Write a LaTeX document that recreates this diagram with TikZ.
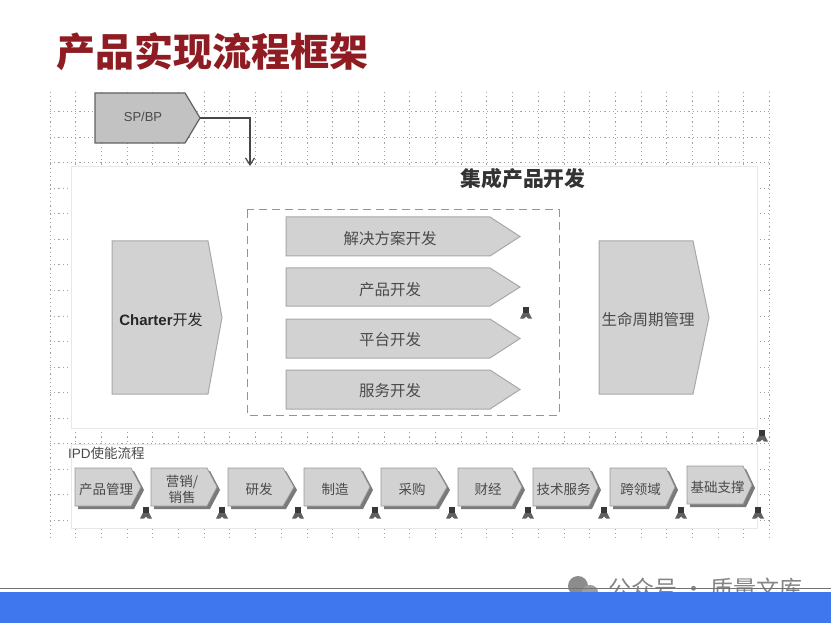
\documentclass[tikz,border=0pt]{standalone}
\usepackage{fontspec}
\usetikzlibrary{arrows.meta}
\setmainfont{Liberation Sans}
\newfontfamily\cjk{Noto Sans CJK SC}
\definecolor{titlered}{HTML}{8E1C22}
\definecolor{band}{HTML}{3F78EE}
\definecolor{inktxt}{HTML}{4A4A4A}
\definecolor{shapefill}{HTML}{D2D2D2}
\definecolor{shapeedge}{HTML}{A8A8A8}
\tikzset{
  griddot/.style={draw=black!36,line width=1pt,dash pattern=on 1.2pt off 3pt},
  panel/.style={fill=white,draw=black!9,line width=0.7pt},
  bigshape/.style={fill=shapefill,draw=shapeedge,line width=1pt},
  chevshape/.style={fill=shapefill,draw=black!40,line width=0.7pt},
  chevshadow/.style={fill=black!52,draw=none},
  lbl/.style={text=inktxt,inner sep=0pt,align=center,font=\cjk\fontsize{#1}{#1}\selectfont},
  lbl/.default=14,
}
\newcommand{\mypent}[7]{%
  \path[#7] (#2,#3) -- (#6,#3) -- (#4,{(#3+#5)/2}) -- (#6,#5) -- (#2,#5) -- cycle;
  \coordinate (#1tip) at (#4,{(#3+#5)/2});
}
\newcommand{\mychev}[7]{%
  \path[chevshadow] ({#2+3},{#3+3}) -- ({#6+3},{#3+3}) -- ({#4+3},{(#3+#5)/2+3}) -- ({#6+3},{#5+3}) -- ({#2+3},{#5+3}) -- cycle;
  \mypent{#1}{#2}{#3}{#4}{#5}{#6}{chevshape}
  \node[lbl=13.5] (#1) at ({(#2+#4)/2-2},{(#3+#5)/2+2}) {#7};
}
\newcommand{\myperson}[2]{%
  \begin{scope}[shift={(#1,#2)}]
    \fill[black!78] (-2.8,-6) rectangle (2.8,-0.5);
    \fill[black!62] (-6,5.5) -- (-3.2,0) -- (3.2,0) -- (6,5.5) -- (2,5.5) -- (0,3.5) -- (-2,5.5) -- cycle;
  \end{scope}
}
\begin{document}
\begin{tikzpicture}[x=1pt,y=-1pt]
\useasboundingbox (0,0) rectangle (831,623);
\fill[white] (0,0) rectangle (831,623);
% title
\node[anchor=west,inner sep=0pt,text=titlered,font=\cjk\bfseries\fontsize{39}{39}\selectfont] (title) at (56,52) {产品实现流程框架};
% grid
\foreach \k in {0,...,28} {
  \draw[griddot] ({50+25.7*\k},92) -- ({50+25.7*\k},540);
}
\foreach \k in {0,...,16} {
  \draw[griddot] (50,{112+25.5*\k}) -- (770,{112+25.5*\k});
}
% panels
\path[panel] (71,166) rectangle (757,428);
\path[panel] (71,444) rectangle (757,528);
\node[anchor=center,inner sep=0pt,text=black!80,font=\cjk\bfseries\fontsize{20.8}{20.8}\selectfont] (ipdtitle) at (523,179) {集成产品开发};
% SP/BP
\mypent{sp}{95}{93}{200}{143}{185}{fill=black!24,draw=black!62,line width=1.2pt}
\node[text=inktxt,inner sep=0pt,font=\fontsize{13}{13}\selectfont] (spbp) at (143,117) {SP/BP};
\coordinate (sptarget) at (250,166);
\draw[black!72,line width=1.2pt,-{Straight Barb[length=7pt,width=9pt]}] (sptip) -| (sptarget);
% dashed group
\draw[black!42,line width=1pt,dash pattern=on 8pt off 5pt] (247,210) rectangle (559,415);
% big pentagons
\mypent{charter}{112}{241}{222}{394}{208}{bigshape}
\node[text=black!85,inner sep=0pt,font=\bfseries\fontsize{15}{15}\selectfont] (charterlbl) at (161,320) {Charter{\cjk\mdseries 开发}};
\mypent{life}{599}{241}{709}{394}{693}{bigshape}
\node[lbl=15.5] (lifelbl) at (648,320) {生命周期管理};
% middle arrows
\mypent{a}{286}{217}{520}{256}{490}{bigshape}
\node[lbl=15.5] (alb) at (390,239) {解决方案开发};
\mypent{b}{286}{268}{520}{306}{490}{bigshape}
\node[lbl=15.5] (blb) at (390,290) {产品开发};
\mypent{c}{286}{319}{520}{358}{490}{bigshape}
\node[lbl=15.5] (clb) at (390,340) {平台开发};
\mypent{d}{286}{370}{520}{409}{490}{bigshape}
\node[lbl=15.5] (dlb) at (390,391) {服务开发};
% enabling label
\node[anchor=west,inner sep=0pt,text=inktxt,font=\fontsize{13.5}{13.5}\selectfont] (ipdlbl) at (68,453) {IPD{\cjk 使能流程}};
% chevrons
\mychev{e1}{75}{468}{141}{506}{131}{产品管理}
\mychev{e2}{151}{468}{217}{506}{207}{营销/\\[1pt]销售}
\mychev{e3}{228}{468}{294}{506}{283}{研发}
\mychev{e4}{304}{468}{370}{506}{360}{制造}
\mychev{e5}{381}{468}{447}{506}{436}{采购}
\mychev{e6}{458}{468}{522}{506}{512}{财经}
\mychev{e7}{533}{468}{598}{506}{589}{技术服务}
\mychev{e8}{610}{468}{675}{506}{666}{跨领域}
\mychev{e9}{687}{466}{752}{504}{743}{基础支撑}
% people
\myperson{526}{313}
\myperson{146}{513}
\myperson{222}{513}
\myperson{298}{513}
\myperson{375}{513}
\myperson{452}{513}
\myperson{528}{513}
\myperson{604}{513}
\myperson{681}{513}
\myperson{758}{513}
\myperson{762}{436}
% watermark
\fill[black!45] (578,586) ellipse (10pt and 10pt);
\fill[black!38] (590,592) ellipse (8pt and 7pt);
\node[anchor=west,inner sep=0pt,text=black!48,font=\cjk\fontsize{23}{23}\selectfont] (wm) at (608,589) {公众号 · 质量文库};
% footer
\draw[black!55,line width=0.8pt] (0,588.5) -- (831,588.5);
\fill[band] (0,592) rectangle (831,623);
\end{tikzpicture}
\end{document}
